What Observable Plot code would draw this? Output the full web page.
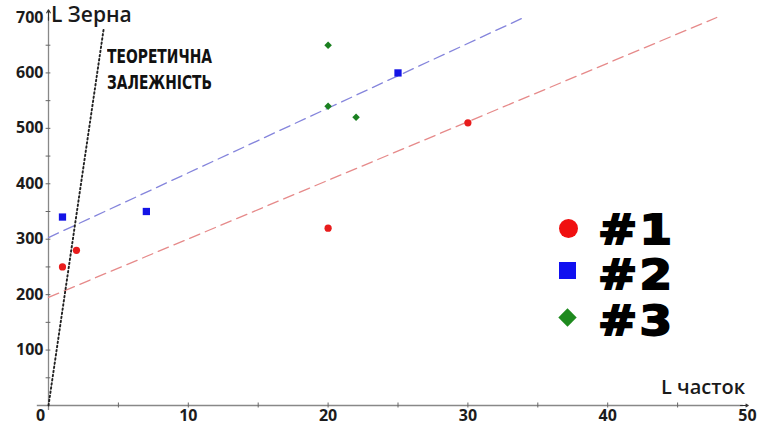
<!DOCTYPE html>
<html>
<head>
<meta charset="utf-8">
<script src="https://cdn.jsdelivr.net/npm/d3@7"></script>
<script src="https://cdn.jsdelivr.net/npm/@observablehq/plot@0.6"></script>
<style>
  html, body { margin: 0; padding: 0; background: #fff; }
  #wrap { position: relative; width: 758px; height: 428px; overflow: hidden; font-family: "Open Sans", sans-serif; }
  .lab { position: absolute; white-space: nowrap; color: #111; }
  .leg { position: absolute; font-family: "DejaVu Sans", sans-serif; font-weight: 900; font-size: 40px; color: #000; -webkit-text-stroke: 1.8px #000; letter-spacing: 2px; line-height: 1; transform-origin: 0 0; transform: scale(1.17, 1); }
  .sym { position: absolute; }
</style>
</head>
<body>
<div id="wrap"></div>
<script>
// ---- data ----
const xTicks = [10, 20, 30, 40, 50];
const yTicks = [100, 200, 300, 400, 500, 600, 700];
const xMinor = [5, 10, 15, 20, 25, 30, 35, 40, 45];
const yMinor = [50, 100, 150, 200, 250, 300, 350, 400, 450, 500, 550, 600, 650];

const series1X = [1, 2, 20, 30];
const series1Y = [250, 280, 320, 510];
const series2X = [1, 7, 25];
const series2Y = [340, 350, 600];
const series3X = [20, 20, 22];
const series3Y = [650, 540, 520];

const trend1X = [0, 47.8];
const trend1Y = [195, 700];
const trend2X = [0, 34];
const trend2Y = [303, 700];
const theoryX = [0, 3.95];
const theoryY = [0, 680];

const legendLabels = ["#1", "#2", "#3"];

const toRows = (xs, ys) => xs.map((x, i) => ({x, y: ys[i]}));
const s1 = toRows(series1X, series1Y);
const s2 = toRows(series2X, series2Y);
const s3 = toRows(series3X, series3Y);
const t1 = toRows(trend1X, trend1Y);
const t2 = toRows(trend2X, trend2Y);
const th = toRows(theoryX, theoryY);

const axisColor = "#888";
const labelFont = {fontSize: 16, fontWeight: 700, fill: "#1c1c1c"};

const chart = Plot.plot({
  width: 758,
  height: 428,
  marginLeft: 48,
  marginRight: 11,
  marginTop: 17,
  marginBottom: 23,
  style: {fontFamily: "'Open Sans', sans-serif", background: "transparent", overflow: "visible"},
  x: {domain: [0, 50], axis: null},
  y: {domain: [0, 700], axis: null},
  marks: [
    // axes
    Plot.ruleY([0], {x1: -0.8, x2: 49.7, stroke: axisColor, strokeWidth: 1.3}),
    Plot.ruleX([0], {y1: -9, y2: 700, stroke: axisColor, strokeWidth: 1.3}),
    Plot.arrow([{x1: 49.5, x2: 50.05, y1: 0, y2: 0}], {x1: "x1", x2: "x2", y1: "y1", y2: "y2", stroke: "#333", headLength: 6, strokeWidth: 1.2}),
    Plot.arrow([{x1: 0, x2: 0, y1: 695, y2: 714}], {x1: "x1", x2: "x2", y1: "y1", y2: "y2", stroke: "#333", headLength: 6, strokeWidth: 1.2}),
    // ticks
    Plot.ruleX(xMinor, {x: d => d, y1: -4.5, y2: 4.5, stroke: "#666"}),
    Plot.ruleY(yMinor, {y: d => d, x1: -0.17, x2: 0.17, stroke: "#666"}),
    // tick labels
    Plot.text(xTicks, {x: d => d, y: 0, text: d => String(d), dy: 4, lineAnchor: "top", ...labelFont}),
    Plot.text([0], {x: d => d, y: 0, text: d => String(d), dx: -8, dy: 4, lineAnchor: "top", ...labelFont}),
    Plot.text(yTicks, {x: 0, y: d => d, text: d => String(d), dx: -5, textAnchor: "end", ...labelFont}),
    // trend lines
    Plot.line(t2, {x: "x", y: "y", stroke: "#8585dc", strokeWidth: 1.3, strokeDasharray: "11,6"}),
    Plot.line(t1, {x: "x", y: "y", stroke: "#e68a8a", strokeWidth: 1.3, strokeDasharray: "11,6"}),
    Plot.line(th, {x: "x", y: "y", stroke: "#222", strokeWidth: 1.9, strokeDasharray: "1.6,2.6"}),
    // points
    Plot.dot(s1, {x: "x", y: "y", r: 3.6, fill: "#e81c1c", stroke: "none"}),
    Plot.dot(s2, {x: "x", y: "y", r: 4.1, symbol: "square", fill: "#1414e6", stroke: "none"}),
    Plot.dot(s3, {x: "x", y: "y", r: 3.4, symbol: "diamond2", fill: "#1a8020", stroke: "none"})
  ]
});

const wrap = document.getElementById("wrap");
chart.style.position = "absolute";
chart.style.left = "0";
chart.style.top = "0";
wrap.appendChild(chart);

function addLabel(text, css) {
  const d = document.createElement("div");
  d.className = "lab";
  d.textContent = text;
  Object.assign(d.style, css);
  wrap.appendChild(d);
  return d;
}
// axis titles
addLabel("L Зерна", {left: "51px", top: "0px", fontSize: "21px", fontWeight: "600", color: "#1a1a1a"});
addLabel("L часток", {left: "661px", top: "373px", fontSize: "20px", fontWeight: "600", color: "#1a1a1a"});
// annotation
const ann1 = addLabel("ТЕОРЕТИЧНА", {left: "107px", top: "44px", fontFamily: "'DejaVu Sans Condensed', 'DejaVu Sans', sans-serif", fontWeight: "bold", fontSize: "20px", transformOrigin: "0 0"});
const ann2 = addLabel("ЗАЛЕЖНІСТЬ", {left: "107px", top: "70px", fontFamily: "'DejaVu Sans Condensed', 'DejaVu Sans', sans-serif", fontWeight: "bold", fontSize: "20px", transformOrigin: "0 0"});
[ann1, ann2].forEach(el => {
  const w = el.getBoundingClientRect().width;
  el.style.transform = `scale(${105 / w}, 1)`;
});

// legend
const legSyms = [
  {css: {left: "559px", top: "219px", width: "19px", height: "19px", borderRadius: "50%", background: "#f01010"}},
  {css: {left: "559px", top: "262px", width: "17px", height: "17px", background: "#1010f0"}},
  {css: {left: "561px", top: "311px", width: "13px", height: "13px", background: "#1e8a1e", transform: "rotate(45deg)"}}
];
const legTops = [210, 255, 301];
legendLabels.forEach((lab, i) => {
  const s = document.createElement("div");
  s.className = "sym";
  Object.assign(s.style, legSyms[i].css);
  wrap.appendChild(s);
  const t = document.createElement("div");
  t.className = "leg";
  t.textContent = lab;
  t.style.left = "598px";
  t.style.top = legTops[i] + "px";
  wrap.appendChild(t);
});
</script>
</body>
</html>
